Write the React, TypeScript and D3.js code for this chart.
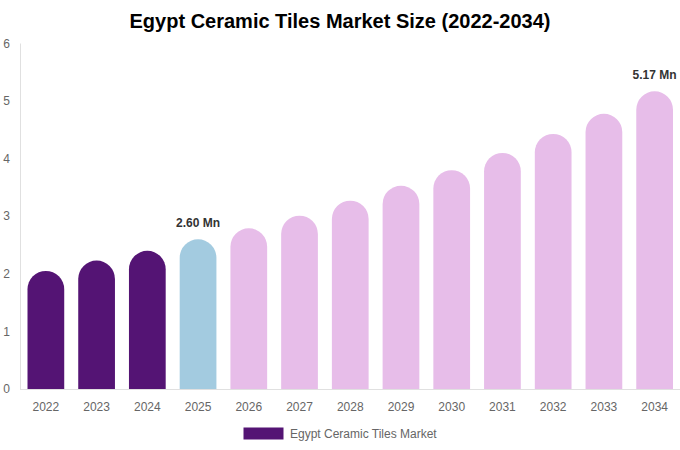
import React, { useEffect } from "react";
import * as d3 from "d3";

const years = ["2022","2023","2024","2025","2026","2027","2028","2029","2030","2031","2032","2033","2034"];
const values = [2.05, 2.23, 2.40, 2.60, 2.79, 3.01, 3.27, 3.53, 3.80, 4.10, 4.43, 4.78, 5.17];
const barColors = ["#541474","#541474","#541474","#a3cbe0","#e7bde9","#e7bde9","#e7bde9","#e7bde9","#e7bde9","#e7bde9","#e7bde9","#e7bde9","#e7bde9"];
const labeledYears = ["2025", "2034"];
const yTicks = [0, 1, 2, 3, 4, 5, 6];
const title = "Egypt Ceramic Tiles Market Size (2022-2034)";
const legendLabel = "Egypt Ceramic Tiles Market";

const W = 680, H = 450;
const FONT = "'Liberation Sans', Arial, sans-serif";

export default function App() {
  useEffect(() => {
    document.body.style.margin = "0";
  }, []);

  const x = d3.scaleBand<string>().domain(years).range([20.5, 680]).paddingInner(0.276).paddingOuter(0.138);
  const y = d3.scaleLinear().domain([0, 6]).range([389, 43.5]);
  const bw = x.bandwidth();
  const r = bw / 2;

  const barPath = (yr: string, v: number) => {
    const x0 = x(yr) as number;
    const top = y(v);
    const base = y(0);
    return `M${x0},${base} L${x0},${top + r} A${r},${r} 0 0 1 ${x0 + bw},${top + r} L${x0 + bw},${base} Z`;
  };

  return (
    <svg width={W} height={H} style={{ display: "block", fontFamily: FONT }}>
      <rect width={W} height={H} fill="#ffffff" />
      <text x={340} y={28} textAnchor="middle" fontSize={20} fontWeight="bold" fill="#000">{title}</text>
      {yTicks.map((t) => (
        <text key={t} x={10} y={y(t)} dy="0.35em" textAnchor="end" fontSize={12} fill="#666">{t}</text>
      ))}
      {years.map((yr, i) => (
        <path key={yr} d={barPath(yr, values[i])} fill={barColors[i]} />
      ))}
      <line x1={20.5} x2={20.5} y1={43.5} y2={389} stroke="#e0e0e0" strokeWidth={1} />
      <line x1={20} x2={680} y1={389.5} y2={389.5} stroke="#e0e0e0" strokeWidth={1} />
      {years.map((yr) => (
        <text key={yr} x={(x(yr) as number) + bw / 2} y={407} dy="0.35em" textAnchor="middle" fontSize={12} fill="#666">{yr}</text>
      ))}
      {years.map((yr, i) =>
        labeledYears.includes(yr) ? (
          <text key={"l" + yr} x={(x(yr) as number) + bw / 2} y={y(values[i]) - 12} textAnchor="middle" fontSize={12} fontWeight="bold" fill="#333">
            {values[i].toFixed(2)} Mn
          </text>
        ) : null
      )}
      <rect x={243.5} y={427.5} width={40} height={12} fill="#541474" />
      <text x={290} y={433.5} dy="0.35em" fontSize={12} fill="#666">{legendLabel}</text>
    </svg>
  );
}
